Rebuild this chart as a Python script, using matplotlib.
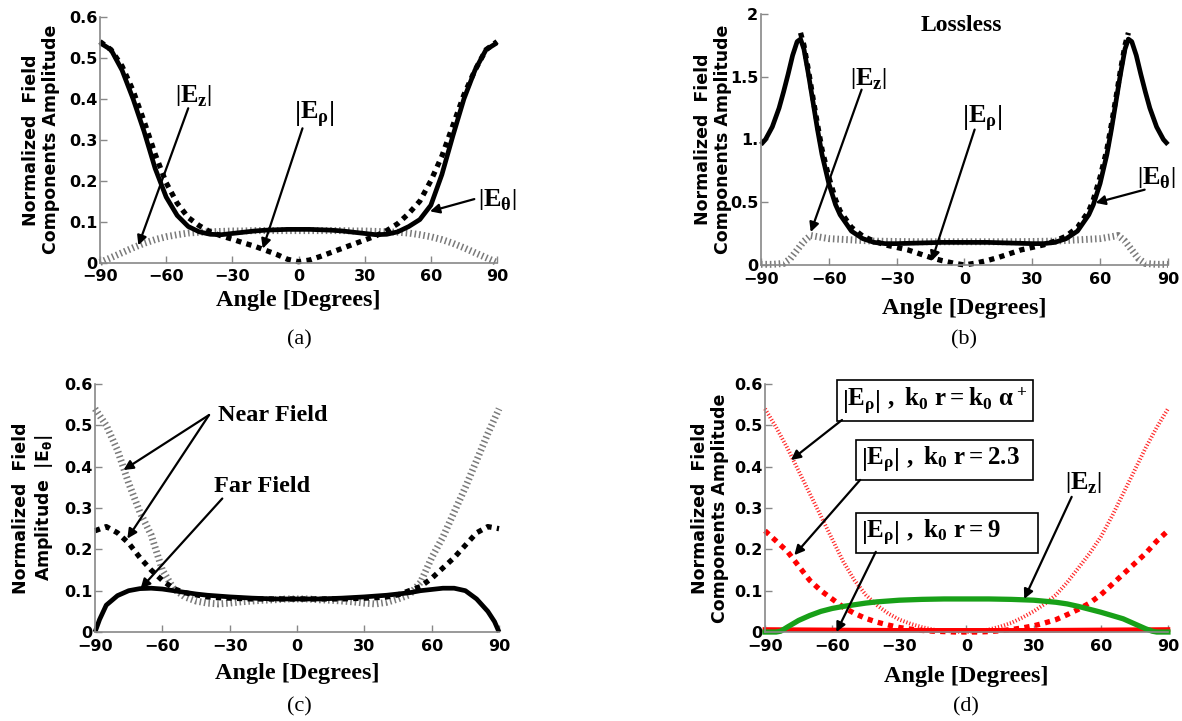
import matplotlib
matplotlib.use("Agg")
import matplotlib.pyplot as plt

plt.rcParams['mathtext.fontset'] = 'custom'
plt.rcParams['mathtext.rm'] = 'Liberation Serif:bold'
plt.rcParams['mathtext.it'] = 'Liberation Serif:bold'
plt.rcParams['mathtext.bf'] = 'Liberation Serif:bold'
plt.rcParams['mathtext.sf'] = 'DejaVu Sans:bold'

# ---- data ----
ang5 = list(range(-90, 91, 5))
xticks = [-90, -60, -30, 0, 30, 60, 90]
xtick_labels = ['\u221290', '\u221260', '\u221230', '0', '30', '60', '90']
yticks_06 = [0, 0.1, 0.2, 0.3, 0.4, 0.5, 0.6]
ytick_labels_06 = ['0', '0.1', '0.2', '0.3', '0.4', '0.5', '0.6']
yticks_b = [0, 0.5, 1, 1.5, 2]
ytick_labels_b = ['0', '0.5', '1.', '1.5', '2']

# (a)
a_theta = [0.537, 0.52, 0.47, 0.40, 0.32, 0.23, 0.16, 0.115, 0.088, 0.075, 0.069, 0.068, 0.071,
           0.074, 0.077, 0.079, 0.080, 0.081, 0.081, 0.081, 0.080, 0.079, 0.077, 0.074, 0.071,
           0.068, 0.069, 0.075, 0.088, 0.105, 0.14, 0.215, 0.31, 0.40, 0.47, 0.52, 0.537]
a_rho = [0.54, 0.52, 0.48, 0.42, 0.345, 0.265, 0.195, 0.145, 0.11, 0.09, 0.075, 0.065, 0.057,
         0.048, 0.04, 0.03, 0.02, 0.008, 0.002, 0.006, 0.015, 0.025, 0.035, 0.045, 0.055, 0.065,
         0.078, 0.095, 0.12, 0.15, 0.2, 0.26, 0.335, 0.41, 0.47, 0.52, 0.54]
a_z = [0.0, 0.012, 0.024, 0.036, 0.047, 0.056, 0.063, 0.068, 0.072, 0.074, 0.075, 0.076, 0.077,
       0.077, 0.078, 0.078, 0.078, 0.078, 0.078, 0.078, 0.078, 0.078, 0.078, 0.077, 0.077, 0.076,
       0.075, 0.074, 0.072, 0.068, 0.063, 0.056, 0.047, 0.036, 0.024, 0.012, 0.0]

# (b)
b_ang_theta = [-90, -88, -85, -82, -80, -78, -76, -74, -72.5, -71, -69, -67, -65, -63, -60, -57,
               -55, -50, -45, -40, -35, -30, -20, -10, 0, 10, 20, 30, 35, 40, 45, 50, 55, 57, 60,
               63, 65, 67, 69, 71, 72.5, 74, 76, 78, 80, 82, 85, 88, 90]
b_theta = [0.96, 1.0, 1.1, 1.25, 1.38, 1.52, 1.67, 1.78, 1.80, 1.72, 1.52, 1.30, 1.08, 0.88, 0.65,
           0.48, 0.40, 0.27, 0.21, 0.18, 0.17, 0.17, 0.175, 0.18, 0.18, 0.18, 0.175, 0.17, 0.17,
           0.18, 0.21, 0.27, 0.40, 0.48, 0.65, 0.88, 1.08, 1.30, 1.52, 1.72, 1.80, 1.78, 1.67,
           1.52, 1.38, 1.25, 1.10, 1.0, 0.96]
b_ang_rho = [-72.5, -71, -69, -67, -65, -63, -60, -57, -55, -50, -45, -40, -35, -30, -25, -20,
             -15, -10, -5, 0, 5, 10, 15, 20, 25, 30, 35, 40, 45, 50, 55, 57, 60, 63, 65, 67, 69,
             71, 72.5]
b_rho = [1.85, 1.75, 1.55, 1.33, 1.12, 0.92, 0.70, 0.52, 0.43, 0.30, 0.23, 0.19, 0.16, 0.14, 0.12,
         0.09, 0.06, 0.035, 0.015, 0.0, 0.015, 0.035, 0.06, 0.09, 0.12, 0.14, 0.16, 0.19, 0.23,
         0.30, 0.43, 0.52, 0.70, 0.92, 1.12, 1.33, 1.55, 1.75, 1.85]
b_ang_z = [-90, -85, -80, -77, -74, -71, -68, -65, -60, -50, -40, -30, -20, -10, 0, 10, 20, 30,
           40, 50, 60, 65, 68, 71, 74, 77, 80, 85, 90]
b_z = [0.005, 0.005, 0.012, 0.05, 0.12, 0.19, 0.235, 0.225, 0.21, 0.2, 0.19, 0.187, 0.185, 0.185,
       0.185, 0.185, 0.185, 0.187, 0.19, 0.2, 0.21, 0.225, 0.235, 0.19, 0.12, 0.05, 0.012, 0.005,
       0.005]

# (c)
c_ang_far = [-90, -88, -85, -80, -75, -70, -65, -60, -55, -50, -45, -40, -30, -20, -10, 0, 10, 20,
             30, 40, 50, 55, 60, 65, 70, 75, 80, 85, 88, 90]
c_far = [0.0, 0.03, 0.065, 0.088, 0.1, 0.105, 0.106, 0.104, 0.1, 0.096, 0.092, 0.089, 0.085,
         0.082, 0.08, 0.08, 0.08, 0.082, 0.085, 0.089, 0.095, 0.1, 0.103, 0.106, 0.106, 0.1, 0.08,
         0.05, 0.025, 0.0]
c_near1 = [0.245, 0.255, 0.24, 0.215, 0.18, 0.15, 0.125, 0.105, 0.095, 0.09, 0.085, 0.083, 0.082,
           0.081, 0.08, 0.08, 0.08, 0.08, 0.08, 0.08, 0.08, 0.08, 0.08, 0.081, 0.082, 0.083,
           0.085, 0.09, 0.1, 0.11, 0.13, 0.155, 0.18, 0.21, 0.24, 0.255, 0.25]
c_near2 = [0.54, 0.5, 0.44, 0.36, 0.29, 0.235, 0.15, 0.105, 0.085, 0.075, 0.07, 0.068, 0.07, 0.073,
           0.075, 0.077, 0.078, 0.08, 0.08, 0.08, 0.078, 0.077, 0.075, 0.073, 0.07, 0.068, 0.072,
           0.08, 0.09, 0.12, 0.18, 0.23, 0.29, 0.35, 0.415, 0.48, 0.54]

# (d)
d_alpha = [0.54, 0.495, 0.445, 0.39, 0.335, 0.28, 0.225, 0.17, 0.125, 0.09, 0.065, 0.045, 0.03,
           0.02, 0.012, 0.006, 0.003, 0.001, 0.0, 0.002, 0.006, 0.013, 0.022, 0.035, 0.05, 0.068,
           0.09, 0.12, 0.155, 0.19, 0.23, 0.28, 0.335, 0.39, 0.445, 0.495, 0.54]
d_23 = [0.245, 0.22, 0.195, 0.16, 0.125, 0.1, 0.08, 0.06, 0.045, 0.033, 0.024, 0.017, 0.011, 0.007,
        0.004, 0.002, 0.001, 0.0, 0.0, 0.0, 0.001, 0.003, 0.006, 0.01, 0.015, 0.022, 0.03, 0.042,
        0.055, 0.07, 0.09, 0.115, 0.14, 0.165, 0.19, 0.22, 0.245]
d_ang_9 = [-90, -60, -30, 0, 30, 60, 90]
d_9 = [0.006, 0.005, 0.004, 0.004, 0.004, 0.005, 0.006]
d_ang_z = [-90, -85, -83, -80, -75, -70, -65, -60, -55, -50, -45, -40, -30, -20, -10, 0, 10, 20,
           30, 40, 45, 50, 55, 60, 65, 70, 75, 80, 83, 85, 90]
d_z = [0, 0, 0.002, 0.012, 0.028, 0.04, 0.05, 0.057, 0.062, 0.066, 0.07, 0.073, 0.077, 0.079, 0.08,
       0.08, 0.08, 0.079, 0.077, 0.072, 0.068, 0.062, 0.055, 0.048, 0.04, 0.032, 0.02, 0.008,
       0.002, 0, 0]

# ---- styles ----
SOLID = dict(color='black', lw=3.4, ls='-', solid_capstyle='butt')
THICKDOT = dict(color='black', lw=3.8, ls=(0, (1.0, 1.0)), dash_capstyle='butt')
HATCH = dict(color='#7a7a7a', lw=5, ls=(0, (0.22, 0.42)), dash_capstyle='butt')
TICKFONT = dict(family='DejaVu Sans', weight='bold', size=11.5)
LABELFONT = dict(family='DejaVu Sans', weight='bold', size=12.5)
SERIF = dict(family='Liberation Serif', weight='bold')
ARROW = dict(arrowstyle='-|>', color='black', lw=1.6, mutation_scale=14, shrinkA=0, shrinkB=0)
FS_E = 19

fig = plt.figure(figsize=(11.82, 7.21), dpi=100)
ax_a = fig.add_axes([0.0846, 0.6359, 0.3359, 0.3405])
ax_b = fig.add_axes([0.6438, 0.6325, 0.3443, 0.3481])
ax_c = fig.add_axes([0.0804, 0.1234, 0.3418, 0.3440])
ax_d = fig.add_axes([0.6472, 0.1234, 0.3409, 0.3440])


def setup(ax, yt, ytl, ylim, ylabel, ylab_x, xlab_y):
    ax.set_xlim(-90, 90)
    ax.set_ylim(*ylim)
    for s in ['top', 'right']:
        ax.spines[s].set_visible(False)
    for s in ['left', 'bottom']:
        ax.spines[s].set_color('#888888')
        ax.spines[s].set_linewidth(1.2)
    ax.tick_params(direction='in', length=5, width=1, color='#888888')
    ax.tick_params(axis='x', pad=5)
    ax.tick_params(axis='y', pad=2)
    ax.set_xticks(xticks)
    ax.set_xticklabels(xtick_labels, **TICKFONT)
    ax.set_yticks(yt)
    ax.set_yticklabels(ytl, **TICKFONT)
    ax.set_xlabel('Angle [Degrees]', fontsize=17.5, va='top', **SERIF)
    ax.xaxis.set_label_coords(0.5, xlab_y)
    ax.set_ylabel(ylabel, linespacing=1.15, **LABELFONT)
    ax.yaxis.set_label_coords(ylab_x, 0.5)


lab = 'Normalized  Field\nComponents Amplitude'

# (a)
setup(ax_a, yticks_06, ytick_labels_06, (0, 0.6), lab, -0.10, -0.11)
ax_a.plot(ang5, a_z, clip_on=False, **HATCH)
ax_a.plot(ang5, a_rho, clip_on=False, **THICKDOT)
ax_a.plot(ang5, a_theta, clip_on=False, **SOLID)
ax_a.text(-47.8, 0.409, r'$\left|E_z\right|$', fontsize=FS_E, ha='center', va='center')
ax_a.annotate('', xy=(-72.6, 0.042), xytext=(-50, 0.377), arrowprops=ARROW)
ax_a.text(6.9, 0.362, r'$\left|E_\rho\right|$', fontsize=FS_E, ha='center', va='center')
ax_a.annotate('', xy=(-16.2, 0.034), xytext=(1.8, 0.328), arrowprops=ARROW)
ax_a.text(90.0, 0.155, r'$\left|E_\theta\right|$', fontsize=FS_E, ha='center', va='center')
ax_a.annotate('', xy=(59.6, 0.125), xytext=(79.7, 0.155), arrowprops=ARROW)

# (b)
setup(ax_b, yticks_b, ytick_labels_b, (0, 2), lab, -0.07, -0.13)
ax_b.plot(b_ang_z, b_z, clip_on=False, **HATCH)
ax_b.plot(b_ang_rho, b_rho, clip_on=False, **THICKDOT)
ax_b.plot(b_ang_theta, b_theta, clip_on=False, **SOLID)
ax_b.text(-1.2, 1.91, 'Lossless', fontsize=17, ha='center', va='center', **SERIF)
ax_b.text(-42.5, 1.484, r'$\left|E_z\right|$', fontsize=FS_E, ha='center', va='center')
ax_b.annotate('', xy=(-68, 0.262), xytext=(-45.5, 1.397), arrowprops=ARROW)
ax_b.text(8, 1.175, r'$\left|E_\rho\right|$', fontsize=FS_E, ha='center', va='center')
ax_b.annotate('', xy=(-14.5, 0.032), xytext=(4.5, 1.079), arrowprops=ARROW)
ax_b.text(85, 0.70, r'$\left|E_\theta\right|$', fontsize=FS_E, ha='center', va='center')
ax_b.annotate('', xy=(58, 0.495), xytext=(79.7, 0.60), arrowprops=ARROW)

# (c)
setup(ax_c, yticks_06, ytick_labels_06, (0, 0.6),
      'Normalized  Field\nAmplitude  $\\mathsf{|E_\\theta|}$', -0.10, -0.125)
ax_c.plot(ang5, c_near2, clip_on=False, **HATCH)
ax_c.plot(ang5, c_near1, clip_on=False, **THICKDOT)
ax_c.plot(c_ang_far, c_far, clip_on=False, **SOLID)
ax_c.text(-35.3, 0.525, 'Near Field', fontsize=17.5, ha='left', va='center', **SERIF)
ax_c.annotate('', xy=(-77.3, 0.392), xytext=(-39.2, 0.525), arrowprops=ARROW)
ax_c.annotate('', xy=(-75.6, 0.226), xytext=(-39.2, 0.525), arrowprops=ARROW)
ax_c.text(-37, 0.353, 'Far Field', fontsize=17.5, ha='left', va='center', **SERIF)
ax_c.annotate('', xy=(-69.7, 0.105), xytext=(-33.3, 0.323), arrowprops=ARROW)

# (d)
setup(ax_d, yticks_06, ytick_labels_06, (0, 0.6), lab, -0.09, -0.135)
ax_d.plot(ang5, d_alpha, clip_on=False, color='#ff2a2a', lw=2.8, ls=(0, (0.3, 0.5)),
          dash_capstyle='butt')
ax_d.plot(ang5, d_23, clip_on=False, color='#ff0000', lw=3.8, ls=(0, (1.0, 1.0)),
          dash_capstyle='butt')
ax_d.plot(d_ang_9, d_9, clip_on=False, color='#ff0000', lw=3.4)
ax_d.plot(d_ang_z, d_z, clip_on=False, color='#18a018', lw=3.8)
box = dict(boxstyle='square,pad=0.2', fc='white', ec='black', lw=1.2)
ax_d.text(-55.5, 0.56, r'$\left|E_\rho\right|\ ,\ k_0\ r = k_0\ \alpha^+$', fontsize=18,
          ha='left', va='center', bbox=box, clip_on=False)
ax_d.text(-47.3, 0.416, r'$\left|E_\rho\right|\ ,\ k_0\ r = 2.3$  ', fontsize=18,
          ha='left', va='center', bbox=box)
ax_d.text(-47.3, 0.24, r'$\left|E_\rho\right|\ ,\ k_0\ r = 9$     ', fontsize=18,
          ha='left', va='center', bbox=box)
ax_d.annotate('', xy=(-78.4, 0.416), xytext=(-55.6, 0.513), arrowprops=ARROW)
ax_d.annotate('', xy=(-76.9, 0.186), xytext=(-47.5, 0.368), arrowprops=ARROW)
ax_d.annotate('', xy=(-58.1, 0.0), xytext=(-40.5, 0.194), arrowprops=ARROW)
ax_d.text(52.3, 0.362, r'$\left|E_z\right|$', fontsize=FS_E, ha='center', va='center')
ax_d.annotate('', xy=(25.8, 0.08), xytext=(47, 0.327), arrowprops=ARROW)

# captions
for x, y, s in [(299, 340, '(a)'), (964, 340, '(b)'), (299, 707, '(c)'), (966, 707, '(d)')]:
    fig.text(x / 1182, 1 - y / 721, s, fontsize=16, family='Liberation Serif',
             ha='center', va='center')

fig.savefig('out.png', dpi=100)
